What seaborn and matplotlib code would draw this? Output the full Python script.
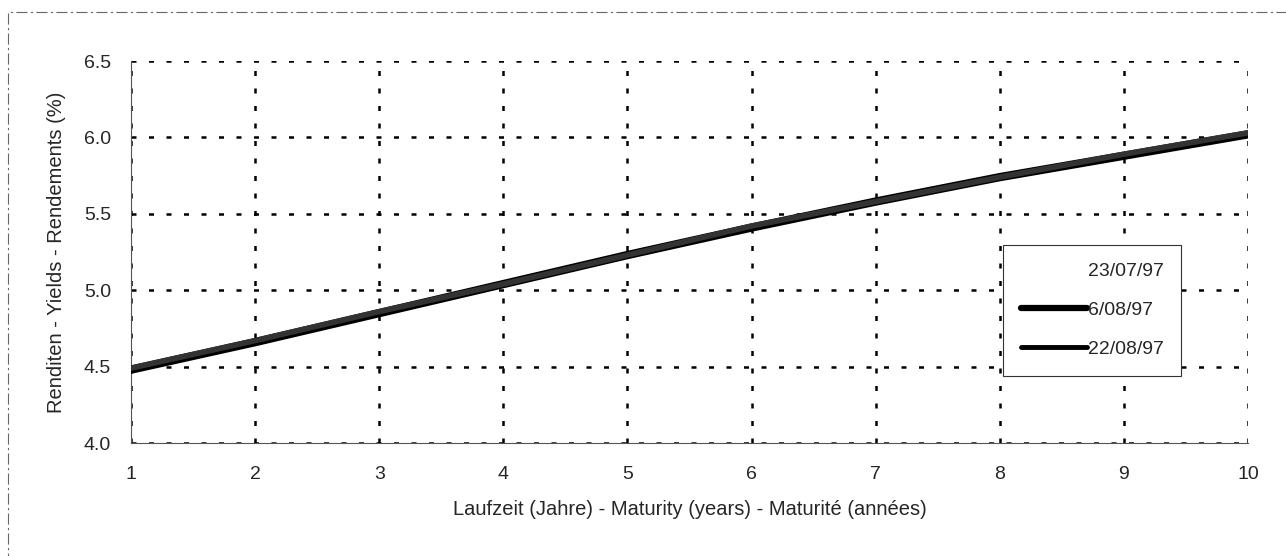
import matplotlib
matplotlib.use("Agg")
import matplotlib.pyplot as plt
import seaborn as sns
import pandas as pd
from matplotlib.patches import Rectangle
from matplotlib.lines import Line2D

maturity = [1, 2, 3, 4, 5, 6, 7, 8, 9, 10]
y_230797 = [4.49, 4.66, 4.85, 5.03, 5.22, 5.40, 5.57, 5.73, 5.88, 6.02]
y_060897 = [4.48, 4.66, 4.85, 5.04, 5.23, 5.41, 5.58, 5.74, 5.88, 6.02]
y_220897 = [4.49, 4.67, 4.86, 5.04, 5.23, 5.42, 5.58, 5.74, 5.89, 6.03]
series_names = ["23/07/97", "6/08/97", "22/08/97"]
y_ticks = [4.0, 4.5, 5.0, 5.5, 6.0, 6.5]
x_ticks = [1, 2, 3, 4, 5, 6, 7, 8, 9, 10]

df = pd.concat([
    pd.DataFrame({"Maturity": maturity, "Yield": y, "Date": name})
    for y, name in zip([y_230797, y_060897, y_220897], series_names)
])

sns.set_style("white")
plt.rcParams["font.family"] = ["Liberation Sans", "DejaVu Sans"]

fig = plt.figure(figsize=(12.86, 5.56), dpi=100)
ax = fig.add_axes([131/1286, 1-443/556, (1248-131)/1286, (443-61)/556])

palette = {"23/07/97": "#ffffff", "6/08/97": "#000000", "22/08/97": "#333333"}
sizes = {"23/07/97": 1.0, "6/08/97": 6.0, "22/08/97": 4.0}
sns.lineplot(data=df, x="Maturity", y="Yield", hue="Date", size="Date",
             palette=palette, sizes=sizes, hue_order=series_names,
             size_order=series_names, ax=ax, legend=False, zorder=5)

ax.set_xlim(1, 10)
ax.set_ylim(4.0, 6.5)
ax.set_xticks(x_ticks)
ax.set_xticklabels([str(t) for t in x_ticks])
ax.set_yticks(y_ticks)
ax.set_yticklabels([f"{t:.1f}" for t in y_ticks])
ax.tick_params(axis="both", labelsize=14, length=5, width=0.8, color="#555555", direction="inout")
ax.tick_params(axis="x", pad=14)
ax.tick_params(axis="y", pad=12)
ax.grid(True, linestyle=(0, (2, 5)), color="black", linewidth=1.8)
for s in ["top", "right"]:
    ax.spines[s].set_visible(False)
for s in ["left", "bottom"]:
    ax.spines[s].set_color("#555555")
    ax.spines[s].set_linewidth(0.8)

ax.set_xlabel("Laufzeit (Jahre) - Maturity (years) - Maturité (années)", fontsize=14.5, labelpad=12)
ax.set_ylabel("Renditen - Yields - Rendements (%)", fontsize=14.5, labelpad=13)

handles = [Line2D([], [], color="#ffffff", linewidth=0),
           Line2D([], [], color="#000000", linewidth=4.5),
           Line2D([], [], color="#000000", linewidth=3.5)]
leg = ax.legend(handles, series_names, loc="upper left",
                bbox_to_anchor=((1003-131)/(1248-131), (443-245)/(443-61)),
                fontsize=14, frameon=True, fancybox=False, framealpha=1,
                edgecolor="#333333", handlelength=3.4, handletextpad=0.05,
                labelspacing=1.1, borderpad=0.9, borderaxespad=0)
leg.get_frame().set_linewidth(0.8)
leg.set_zorder(10)

fig.patches.append(Rectangle((8/1286, -0.2), 1.2, 1.2-12/556, transform=fig.transFigure,
                             fill=False, edgecolor="#666666", linewidth=0.8,
                             linestyle=(0, (10, 3, 2, 3))))

fig.savefig("out.png", dpi=100)
